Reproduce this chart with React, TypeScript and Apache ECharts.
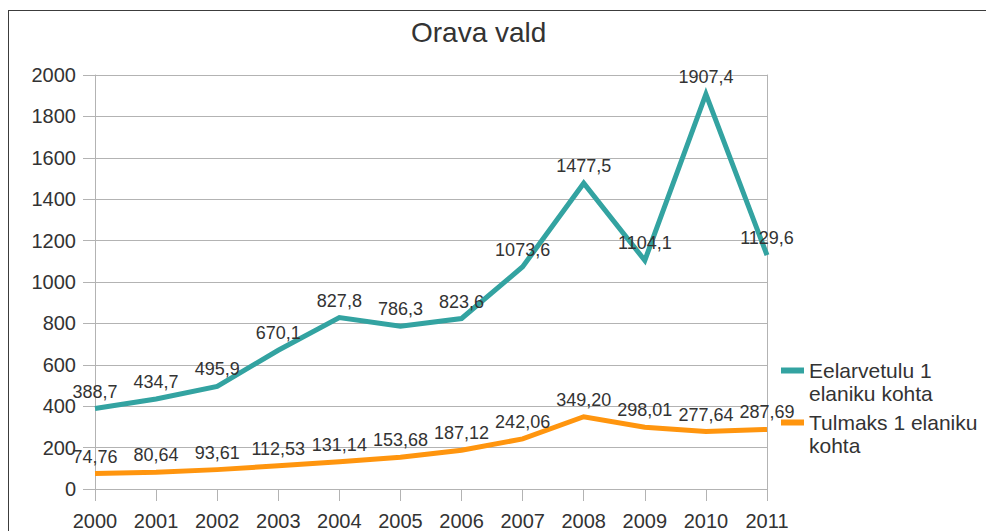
import React, { useEffect, useRef } from "react";
import * as echarts from "echarts";

const years = ["2000", "2001", "2002", "2003", "2004", "2005", "2006", "2007", "2008", "2009", "2010", "2011"];
const eelarvetulu = [388.7, 434.7, 495.9, 670.1, 827.8, 786.3, 823.6, 1073.6, 1477.5, 1104.1, 1907.4, 1129.6];
const tulmaks = [74.76, 80.64, 93.61, 112.53, 131.14, 153.68, 187.12, 242.06, 349.2, 298.01, 277.64, 287.69];
const seriesNames = ["Eelarvetulu 1 elaniku kohta", "Tulmaks 1 elaniku kohta"];
const legendLabels: Record<string, string> = {
  "Eelarvetulu 1 elaniku kohta": " \nEelarvetulu 1\nelaniku kohta",
  "Tulmaks 1 elaniku kohta": " \nTulmaks 1 elaniku\nkohta",
};

const FONT = "'Liberation Sans', Arial, sans-serif";
const TEXT = "#333333";
const GRID = "#b3b3b3";

export default function App() {
  const ref = useRef<HTMLDivElement>(null);
  useEffect(() => {
    if (!ref.current) return;
    const chart = echarts.init(ref.current, undefined, { renderer: "svg" });
    const mkLabel = (digits: number) => ({
      show: true,
      position: "top" as const,
      distance: 8,
      fontSize: 18,
      fontFamily: FONT,
      color: TEXT,
      formatter: (p: any) => Number(p.value).toFixed(digits).replace(".", ","),
    });
    chart.setOption({
      animation: false,
      backgroundColor: "#ffffff",
      textStyle: { fontFamily: FONT },
      title: {
        text: "Orava vald",
        left: 411,
        top: 18,
        padding: 0,
        textStyle: { fontFamily: FONT, fontSize: 28, fontWeight: "normal", color: TEXT },
      },
      graphic: [
        { type: "line", shape: { x1: 8, y1: 10.5, x2: 986, y2: 10.5 }, style: { stroke: "#3c3c3c", lineWidth: 1 } },
        { type: "line", shape: { x1: 8.5, y1: 10, x2: 8.5, y2: 531 }, style: { stroke: "#3c3c3c", lineWidth: 1 } },
      ],
      legend: {
        orient: "vertical",
        left: 781,
        top: 336,
        padding: 0,
        itemGap: -17,
        itemWidth: 23,
        itemHeight: 6,
        icon: "rect",
        data: seriesNames,
        formatter: (n: string) => legendLabels[n] || n,
        textStyle: {
          fontFamily: FONT,
          fontSize: 21,
          lineHeight: 23,
          color: TEXT,
        },
      },
      grid: { left: 95, right: 219, top: 75, bottom: 40, containLabel: false },
      xAxis: {
        type: "category",
        data: years,
        boundaryGap: false,
        axisLine: { show: true, lineStyle: { color: GRID, width: 1 } },
        axisTick: { show: true, length: 12, alignWithLabel: true, lineStyle: { color: GRID } },
        axisLabel: { fontFamily: FONT, fontSize: 20, color: TEXT, margin: 22 },
        splitLine: { show: false },
      },
      yAxis: [
        {
          type: "value",
          min: 0,
          max: 2000,
          interval: 200,
          axisLine: { show: true, lineStyle: { color: GRID, width: 1 } },
          axisTick: { show: true, length: 12, lineStyle: { color: GRID } },
          axisLabel: { fontFamily: FONT, fontSize: 20, color: TEXT, margin: 19, formatter: (v: number) => String(v) },
          splitLine: { show: true, lineStyle: { color: GRID, width: 1 } },
        },
        {
          type: "value",
          position: "right",
          min: 0,
          max: 2000,
          interval: 200,
          axisLine: { show: true, lineStyle: { color: GRID, width: 1 } },
          axisTick: { show: false },
          axisLabel: { show: false },
          splitLine: { show: false },
        },
      ],
      series: [
        {
          name: seriesNames[0],
          type: "line",
          data: eelarvetulu,
          color: "#33a3a1",
          showSymbol: true,
          symbol: "circle",
          symbolSize: 0,
          lineStyle: { width: 5, color: "#33a3a1", join: "miter" },
          label: mkLabel(1),
          z: 3,
        },
        {
          name: seriesNames[1],
          type: "line",
          data: tulmaks,
          color: "#ff950e",
          showSymbol: true,
          symbol: "circle",
          symbolSize: 0,
          lineStyle: { width: 5, color: "#ff950e", join: "miter" },
          label: mkLabel(2),
          z: 3,
        },
      ],
    });
    return () => chart.dispose();
  }, []);
  return <div ref={ref} style={{ position: "absolute", left: 0, top: 0, width: 986, height: 531 }} />;
}
